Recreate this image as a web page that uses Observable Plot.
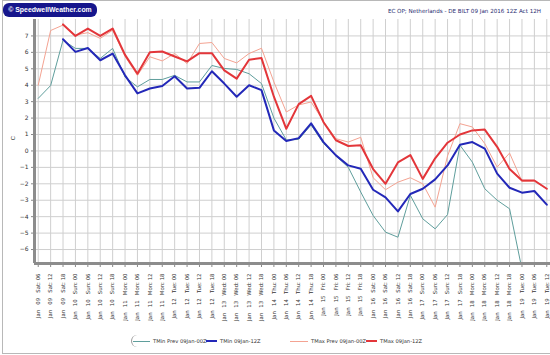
<!DOCTYPE html>
<html><head><meta charset="utf-8">
<script src="https://cdn.jsdelivr.net/npm/d3@7"></script>
<script src="https://cdn.jsdelivr.net/npm/@observablehq/plot@0.6"></script>
<style>
body{margin:0;background:#fff;}
#wrap{position:relative;width:550px;height:355px;overflow:hidden;font-family:"Liberation Sans",Arial,sans-serif;}
#wrap svg{position:absolute;left:0;top:0;}
.abs{position:absolute;white-space:pre;}
#border{position:absolute;left:2px;top:0;width:560px;height:352px;border:1px solid #b8b8b8;}
#logo{left:3px;top:3px;width:94px;height:14px;border-radius:6px;background:#16168c;color:#fff;font:bold 6.9px "Liberation Sans",Arial,sans-serif;line-height:14px;text-align:center;}
#title{right:9px;top:8px;font-size:5.6px;color:#1f2a70;font-family:"DejaVu Sans",sans-serif;}
#ylab{left:11px;top:135px;font-size:6px;color:#333;transform:rotate(-90deg);}
.leg{top:338px;font-size:5.2px;color:#333;font-family:"DejaVu Sans",sans-serif;}
.sw{position:absolute;}
#bracket{left:131px;top:335px;width:6px;height:12px;border-left:1px solid #9a9a9a;border-radius:6px 0 0 6px;}
g[aria-label="x-axis tick label"] text{white-space:pre;}
</style></head><body><div id="wrap">
<div id="border"></div>
</div>
<script>
const labels = [
"Jan   09   Sat: 06","Jan   09   Sat: 12","Jan   09   Sat: 18",
"Jan   10   Sun: 00","Jan   10   Sun: 06","Jan   10   Sun: 12","Jan   10   Sun: 18",
"Jan   11   Mon: 00","Jan   11   Mon: 06","Jan   11   Mon: 12","Jan   11   Mon: 18",
"Jan   12   Tue: 00","Jan   12   Tue: 06","Jan   12   Tue: 12","Jan   12   Tue: 18",
"Jan   13   Wed: 00","Jan   13   Wed: 06","Jan   13   Wed: 12","Jan   13   Wed: 18",
"Jan   14   Thu: 00","Jan   14   Thu: 06","Jan   14   Thu: 12","Jan   14   Thu: 18",
"Jan   15   Fri: 00","Jan   15   Fri: 06","Jan   15   Fri: 12","Jan   15   Fri: 18",
"Jan   16   Sat: 00","Jan   16   Sat: 06","Jan   16   Sat: 12","Jan   16   Sat: 18",
"Jan   17   Sun: 00","Jan   17   Sun: 06","Jan   17   Sun: 12","Jan   17   Sun: 18",
"Jan   18   Mon: 00","Jan   18   Mon: 06","Jan   18   Mon: 12","Jan   18   Mon: 18",
"Jan   19   Tue: 00","Jan   19   Tue: 06","Jan   19   Tue: 12"
];
const tminPrev = [3.2,3.98,6.74,6.24,6.24,5.63,6.24,4.5,3.9,4.35,4.35,4.6,4.2,4.2,5.2,5.02,4.96,4.7,4.1,2.0,0.67,0.7,1.58,0.45,-0.3,-1.0,-2.5,-3.93,-4.94,-5.25,-2.7,-4.13,-4.74,-3.87,0.35,-0.68,-2.3,-3.0,-3.52,-7.2,null,null];
const tmin = [null,null,6.8,6.03,6.27,5.52,5.93,4.6,3.5,3.8,3.95,4.55,3.8,3.84,4.85,4.1,3.3,4.0,3.7,1.25,0.6,0.78,1.68,0.54,-0.27,-0.88,-1.08,-2.36,-2.83,-3.68,-2.62,-2.3,-1.73,-0.88,0.38,0.54,0.14,-1.38,-2.24,-2.54,-2.44,-3.27];
const tmaxPrev = [4.0,7.33,7.66,7.05,7.2,6.85,7.35,5.75,4.6,5.73,5.48,5.93,5.32,6.54,6.6,5.63,5.36,5.93,6.25,4.2,2.37,2.8,2.98,1.8,0.75,0.54,0.83,-1.63,-2.36,-1.9,-1.63,-2.0,-3.42,-0.3,1.66,1.46,0.45,-0.98,-0.13,-1.85,-1.84,-2.3];
const tmax = [null,null,7.7,7.0,7.45,7.0,7.45,5.85,4.7,6.0,6.05,5.75,5.45,5.95,5.95,4.9,4.4,5.55,5.65,3.3,1.35,2.85,3.35,1.75,0.65,0.3,0.35,-1.1,-2.0,-0.7,-0.25,-1.7,-0.45,0.5,1.0,1.25,1.3,0.25,-1.1,-1.8,-1.8,-2.3];
const yTicks = [-6,-5,-4,-3,-2,-1,0,1,2,3,4,5,6,7];
const seriesNames = ["TMin Prev 09Jan-00Z","TMin 09Jan-12Z","TMax Prev 09Jan-00Z","TMax 09Jan-12Z"];
const seriesColors = ["#5f9e9c","#2328b8","#f4a392","#e3363a"];
const titleText = "EC OP; Netherlands - DE BILT 09 Jan 2016 12Z Act 12H";
const logoText = "\u00a9 SpeedwellWeather.com";

const rows = labels.map((label, i) => ({i, label, tminPrev: tminPrev[i], tmin: tmin[i], tmaxPrev: tmaxPrev[i], tmax: tmax[i]}));
const idx = rows.map(r => r.i);
const yMin = -6.85, yMax = 8, xLo = -0.3, xHi = 41.3;

const chart = Plot.plot({
  width: 550, height: 355,
  marginLeft: 34, marginRight: 0, marginTop: 19, marginBottom: 92,
  style: {fontFamily: "'DejaVu Sans', sans-serif", fontSize: "5.5px", color: "#333", background: "transparent", overflow: "visible"},
  x: {type: "linear", domain: [xLo, xHi]},
  y: {domain: [yMin, yMax]},
  marks: [
    Plot.gridX(idx, {stroke: "#cfcfcf", strokeOpacity: 1, strokeWidth: 1}),
    Plot.gridY(yTicks, {stroke: "#cfcfcf", strokeOpacity: 1, strokeWidth: 1}),
    Plot.line(rows, {x: "i", y: "tminPrev", stroke: seriesColors[0], strokeWidth: 1, clip: true}),
    Plot.line(rows, {x: "i", y: "tmaxPrev", stroke: seriesColors[2], strokeWidth: 1, clip: true}),
    Plot.line(rows, {x: "i", y: "tmin", stroke: seriesColors[1], strokeWidth: 2, clip: true}),
    Plot.line(rows, {x: "i", y: "tmax", stroke: seriesColors[3], strokeWidth: 2, clip: true}),
    Plot.axisY(yTicks, {tickSize: 3, tickPadding: 3, fontSize: 6, label: null, stroke: "#888", fill: "#333"}),
    Plot.axisX(idx, {tickFormat: i => labels[i], tickRotate: -90, tickSize: 4, tickPadding: 6, fontSize: 5.4, label: null, stroke: "#888", fill: "#333"}),
    Plot.ruleY([yMin], {stroke: "#8c8c8c", strokeWidth: 3}),
    Plot.ruleX([xLo], {stroke: "#8c8c8c", strokeWidth: 3})
  ]
});
const wrap = document.getElementById("wrap");
wrap.appendChild(chart);

function addDiv(id, cls, text, style) {
  const d = document.createElement("div");
  if (id) d.id = id;
  d.className = cls;
  if (text != null) d.textContent = text;
  if (style) Object.assign(d.style, style);
  wrap.appendChild(d);
  return d;
}
addDiv("logo", "abs", logoText);
addDiv("title", "abs", titleText);
addDiv("ylab", "abs", "C");
addDiv("bracket", "abs", null);
const legX = [{sw: 133, w: 17, t: 153}, {sw: 206, w: 11, t: 220}, {sw: 290, w: 18, t: 311}, {sw: 366, w: 11, t: 380}];
const legW = [1, 2, 1, 2];
seriesNames.forEach((name, k) => {
  addDiv(null, "sw", null, {left: legX[k].sw + "px", top: (341 - legW[k] / 2) + "px", width: legX[k].w + "px", height: legW[k] + "px", background: seriesColors[k]});
  addDiv(null, "abs leg", name, {left: legX[k].t + "px"});
});
</script></body></html>
